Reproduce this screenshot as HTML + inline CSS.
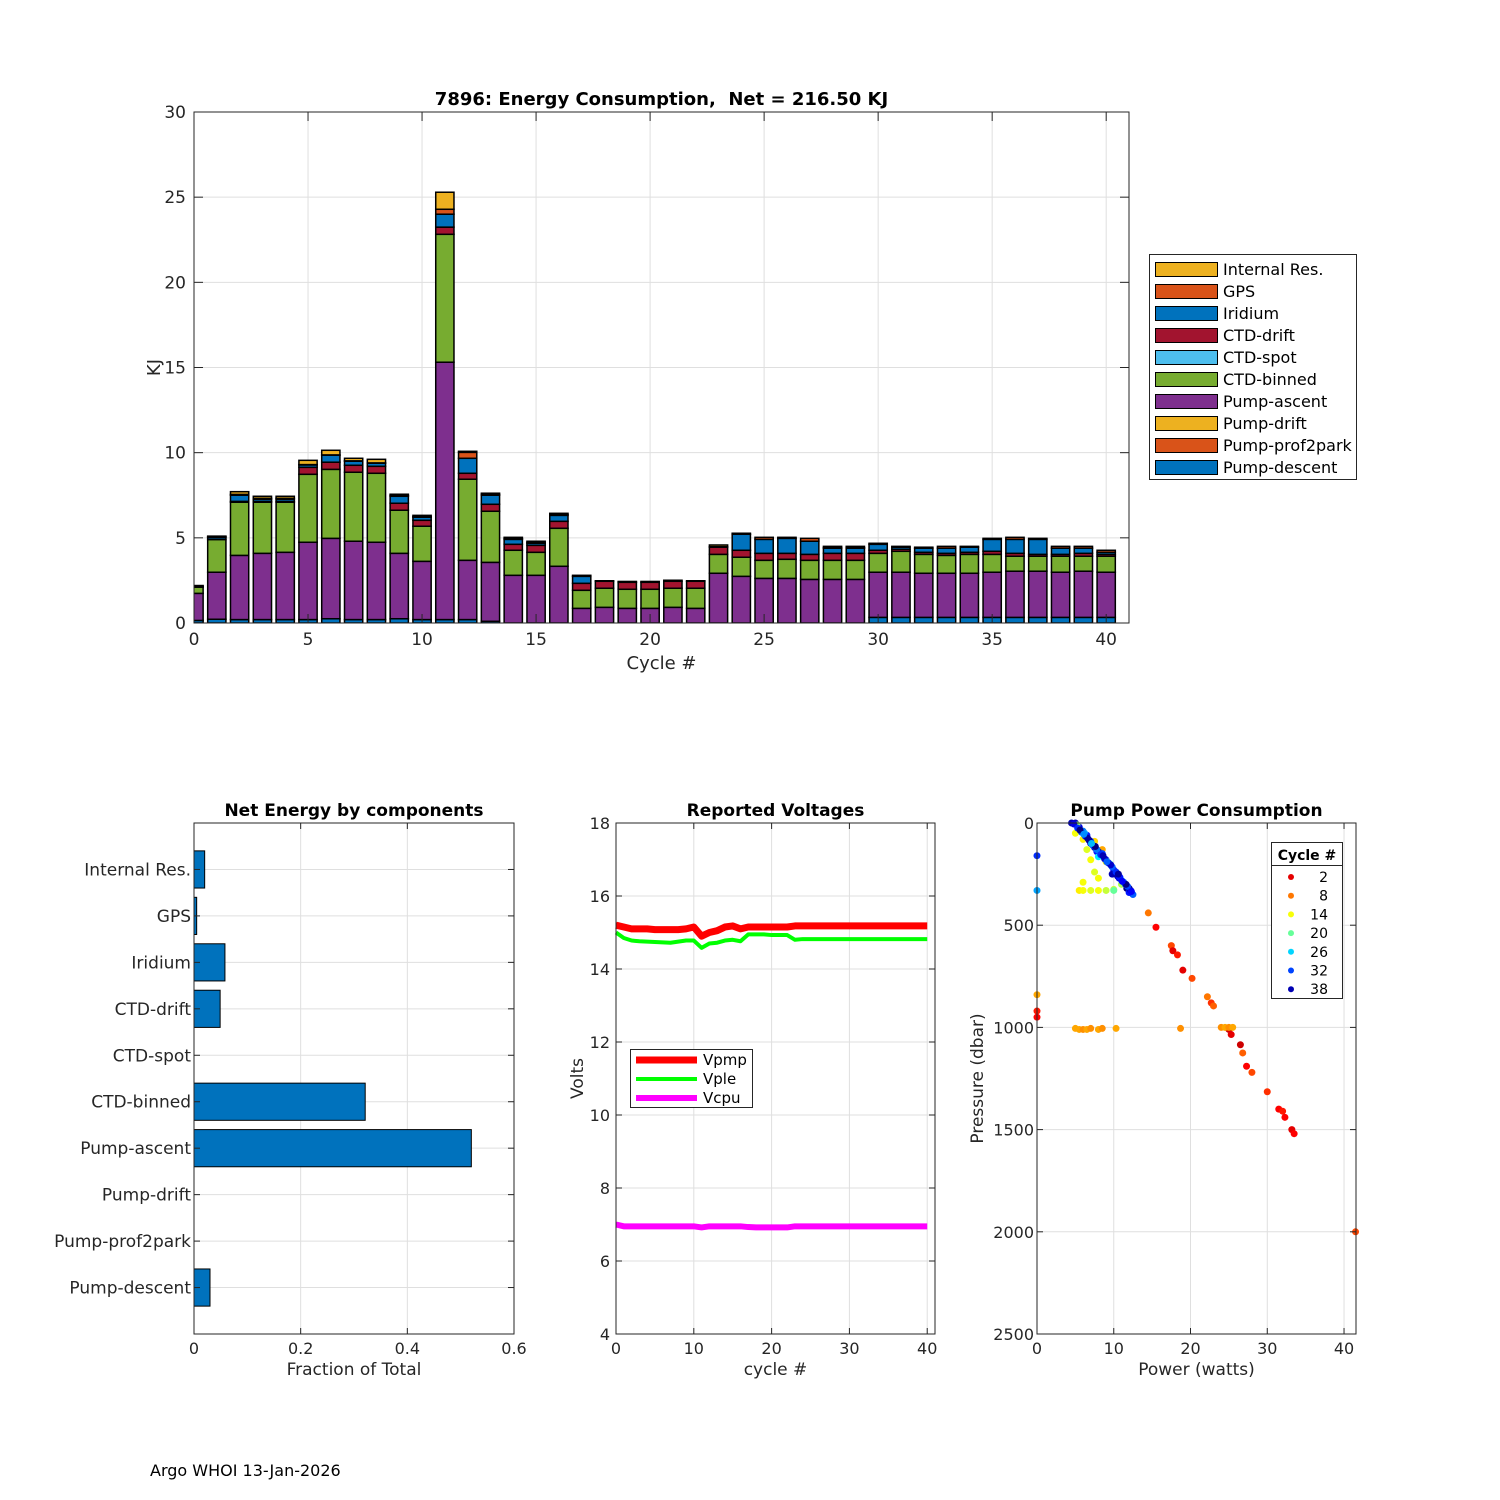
<!DOCTYPE html>
<html><head><meta charset="utf-8">
<style>
html,body{margin:0;padding:0;background:#fff;overflow:hidden;}
svg{display:block;font-family:"DejaVu Sans","Liberation Sans",sans-serif;}
</style></head>
<body>
<svg id="fig" width="1500" height="1500" viewBox="0 0 1500 1500" xmlns="http://www.w3.org/2000/svg">
<rect width="1500" height="1500" fill="#fff"/>
<text x="150" y="1476" font-size="16" fill="#000">Argo WHOI 13-Jan-2026</text>
</svg>
<script>
// ---------- Top chart data ----------
const cycles = [0,1,2,3,4,5,6,7,8,9,10,11,12,13,14,15,16,17,18,19,20,21,22,23,24,25,26,27,28,29,30,31,32,33,34,35,36,37,38,39,40];
const pumpDescent = [.15,.22,.2,.2,.2,.2,.25,.2,.2,.25,.2,.2,.2,.1,0,0,0,0,0,0,0,0,0,0,0,0,0,0,0,0,.33,.33,.33,.33,.33,.33,.33,.33,.33,.33,.33];
const pumpProf2park = [0,0,0,0,0,0,0,0,0,0,0,0,0,0,0,0,0,0,0,0,0,0,0,0,0,0,0,0,0,0,0,0,0,0,0,0,0,0,0,0,0];
const pumpDrift = [0,0,0,0,0,0,0,0,0,0,0,0,0,0,0,0,0,0,0,0,0,0,0,0,0,0,0,0,0,0,0,0,0,0,0,0,0,0,0,0,0];
const pumpAscent = [1.59,2.76,3.77,3.89,3.95,4.54,4.72,4.6,4.54,3.84,3.42,15.11,3.48,3.46,2.8,2.8,3.33,.86,.92,.86,.86,.92,.86,2.92,2.74,2.62,2.62,2.56,2.56,2.56,2.65,2.65,2.59,2.59,2.59,2.65,2.71,2.71,2.65,2.71,2.65];
const ctdBinned = [.36,1.92,3.12,3.0,2.94,3.99,4.05,4.05,4.05,2.53,2.06,7.51,4.76,3.0,1.47,1.35,2.23,1.06,1.12,1.12,1.12,1.12,1.18,1.11,1.12,1.06,1.12,1.12,1.12,1.12,1.11,1.23,1.11,1.05,1.11,1.05,.88,.88,.94,.88,.94];
const ctdSpot = [0,0,0,0,0,0,0,0,0,0,0,0,0,0,0,0,0,0,0,0,0,0,0,0,0,0,0,0,0,0,0,0,0,0,0,0,0,0,0,0,0];
const ctdDrift = [0,0,.05,.05,.05,.41,.42,.41,.41,.41,.35,.42,.35,.41,.35,.41,.41,.41,.41,.41,.41,.41,.41,.42,.41,.41,.35,.35,.41,.41,.18,.12,.12,.12,.12,.18,.17,.11,.11,.17,.11];
const iridium = [0,.12,.36,.13,.13,.14,.41,.24,.18,.41,.18,.76,.88,.53,.29,.12,.35,.41,0,0,0,0,0,0,.94,.82,.88,.77,.3,.3,.35,.12,.24,.3,.3,.7,.82,.88,.36,.3,.12];
const gps = [.05,.05,.05,.05,.05,.02,.02,.02,.02,.05,.03,.29,.35,.05,.05,.05,.05,.06,.03,.05,.05,.06,.03,.03,.06,.12,.06,.17,.03,.03,.06,.05,.06,.11,.05,.06,.12,.06,.11,.11,.12];
const internalRes = [.05,.03,.16,.12,.12,.25,.27,.15,.21,.07,.08,1.0,.06,.07,.07,.07,.07,0,0,0,0,0,0,.1,0,0,0,0,.08,.08,0,0,0,0,0,0,0,0,0,0,0];
const seriesNames = ["Pump-descent","Pump-prof2park","Pump-drift","Pump-ascent","CTD-binned","CTD-spot","CTD-drift","Iridium","GPS","Internal Res."];
const seriesColors = ["#0072bd","#d95319","#edb120","#7e2f8e","#77ac30","#4dbeee","#a2142f","#0072bd","#d95319","#edb120"];
const topYTicks = [0,5,10,15,20,25,30];
const topXTicks = [0,5,10,15,20,25,30,35,40];

// ---------- Bottom-left ----------
const compNames = ["Pump-descent","Pump-prof2park","Pump-drift","Pump-ascent","CTD-binned","CTD-spot","CTD-drift","Iridium","GPS","Internal Res."];
const compFractions = [0.030,0,0,0.520,0.321,0,0.049,0.058,0.005,0.020];
const fracTicks = [0,0.2,0.4,0.6];

// ---------- Voltages ----------
const voltCycles = [0,1,2,3,4,5,6,7,8,9,10,11,12,13,14,15,16,17,18,19,20,21,22,23,24,25,26,27,28,29,30,31,32,33,34,35,36,37,38,39,40];
const vpmp = [15.2,15.15,15.1,15.1,15.1,15.08,15.08,15.08,15.08,15.1,15.15,14.9,15.0,15.05,15.15,15.18,15.1,15.15,15.15,15.15,15.15,15.15,15.15,15.18,15.18,15.18,15.18,15.18,15.18,15.18,15.18,15.18,15.18,15.18,15.18,15.18,15.18,15.18,15.18,15.18,15.18];
const vple = [15.0,14.85,14.78,14.76,14.75,14.74,14.73,14.72,14.75,14.78,14.78,14.58,14.7,14.72,14.78,14.8,14.76,14.95,14.95,14.95,14.93,14.93,14.93,14.8,14.82,14.82,14.82,14.82,14.82,14.82,14.82,14.82,14.82,14.82,14.82,14.82,14.82,14.82,14.82,14.82,14.82];
const vcpu = [7.0,6.95,6.95,6.95,6.95,6.95,6.95,6.95,6.95,6.95,6.95,6.92,6.95,6.95,6.95,6.95,6.95,6.93,6.92,6.92,6.92,6.92,6.92,6.95,6.95,6.95,6.95,6.95,6.95,6.95,6.95,6.95,6.95,6.95,6.95,6.95,6.95,6.95,6.95,6.95,6.95];
const voltYTicks = [4,6,8,10,12,14,16,18];
const voltXTicks = [0,10,20,30,40];

// ---------- Pump power scatter ----------
const pumpPower = [14.5,15.5,17.5,17.7,18.3,19,20.2,22.2,22.7,23,25,25.3,26.5,26.8,27.3,28,30,31.5,32,32.3,33.2,33.5,41.5,
 5,5.5,6,6.5,7,8,8.5,10.3,18.7,24,24.5,25,25.5,
 0,0,0,0,0,
 5,6,6.5,7,7.5,6,5.5,6,7,8,9,10,11,8,9,7.5,8.5,10,
 4.5,5,5.5,6,6.5,7,7.5,8,8.5,9,9.5,10,10.5,11,11.5,12,12.5,7,8.5,9.2,10.7,11.7,6.2,7.8,10.2,12,5.2,8,9.8,12.2,6.8,
 4.8,5.3,5.8,6.3,6.8,7.3,7.8,8.3,8.8,9.3,9.8,10.3,10.8,11.3,11.8,12.3,5.6,6.6,7.6,8.6,9.6,10.6,11.6,6.1,7.1,9.1,11.1];
const pumpPressure = [440,510,600,625,645,720,760,850,880,895,1010,1035,1085,1125,1190,1220,1315,1400,1410,1440,1500,1520,2000,
 1005,1010,1010,1010,1005,1010,1005,1005,1005,1000,1000,1000,1000,
 160,330,840,920,950,
 50,80,130,180,240,290,330,330,330,330,330,325,300,270,190,90,130,330,
 0,0,20,40,60,90,120,140,160,180,200,230,260,280,300,320,350,100,150,190,270,320,50,140,240,340,10,165,250,330,85,
 5,25,45,65,85,110,130,155,175,195,215,240,265,290,310,335,35,75,115,160,205,250,300,55,100,190,285];
const pumpCycle = [8,3,6,2,4,2,6,8,5,7,1,2,1,7,3,6,5,3,4,3,2,3,6,
 10,10,9,10,9,10,9,10,9,9,10,9,10,
 33,28,10,4,3,
 14,13,15,14,15,14,13,14,15,14,16,16,17,14,13,12,10,20,
 38,38,36,30,34,32,37,40,26,33,22,35,38,24,32,39,31,38,32,20,36,40,28,34,30,34,18,25,38,38,40,
 36,33,31,34,39,32,30,33,37,35,31,33,34,30,32,35,40,39,40,38,37,39,40,29,27,31,35];
const legendCycles = [2,8,14,20,26,32,38];
const powXTicks = [0,10,20,30,40];
const presTicks = [0,500,1000,1500,2000,2500];

// ---------- helpers ----------
const NS = "http://www.w3.org/2000/svg";
const svg = document.getElementById('fig');
function mk(tag, attrs, parent){
  const e = document.createElementNS(NS, tag);
  for (const k in attrs) e.setAttribute(k, attrs[k]);
  (parent||svg).appendChild(e);
  return e;
}
function txt(s, x, y, size, anchor, parent, extra){
  const t = mk('text', Object.assign({x:x, y:y, 'font-size':size, 'text-anchor':anchor||'middle', fill:'#262626'}, extra||{}), parent);
  t.textContent = s;
  return t;
}
function jet(c){
  let v = 0.9 - (c-2)/36*0.85;
  v = Math.max(0, Math.min(1, v));
  const r = Math.max(0,Math.min(1,1.5-Math.abs(4*v-3)));
  const g = Math.max(0,Math.min(1,1.5-Math.abs(4*v-2)));
  const b = Math.max(0,Math.min(1,1.5-Math.abs(4*v-1)));
  return `rgb(${Math.round(r*255)},${Math.round(g*255)},${Math.round(b*255)})`;
}
const GRID = '#dfdfdf', AX = '#262626';

// ================= TOP CHART =================
(function(){
  const L=194,R=1129,T=112,B=623, X0=0,X1=41,Y0=0,Y1=30;
  const xs = v => L + (v-X0)/(X1-X0)*(R-L);
  const ys = v => B - (v-Y0)/(Y1-Y0)*(B-T);
  const g = mk('g',{});
  
  
  topXTicks.forEach(v=>{ const l=mk('line',{x1:xs(v),x2:xs(v),y1:T,y2:B,stroke:GRID},g);   });
  topYTicks.forEach(v=>{ const l=mk('line',{x1:L,x2:R,y1:ys(v),y2:ys(v),stroke:GRID},g);   });
  const clip = mk('clipPath',{id:'topclip'},g); mk('rect',{x:L,y:T,width:R-L,height:B-T},clip);
  const bars = mk('g',{'clip-path':'url(#topclip)'},g);
  const series = [pumpDescent,pumpProf2park,pumpDrift,pumpAscent,ctdBinned,ctdSpot,ctdDrift,iridium,gps,internalRes];
  const bw = 0.8;
  cycles.forEach((c,i)=>{
    let base = 0;
    series.forEach((s,k)=>{
      const v = s[i];
      if (v<=0) return;
      const r = mk('rect',{x:xs(c-bw/2),y:ys(base+v),width:xs(c+bw/2)-xs(c-bw/2),height:ys(base)-ys(base+v),fill:seriesColors[k],stroke:'#000','stroke-width':1.5},bars);
      
      
      base += v;
    });
  });
  mk('rect',{x:L,y:T,width:R-L,height:B-T,fill:'none',stroke:AX,'stroke-width':1},g);
  topYTicks.forEach(v=>{
    mk('line',{x1:L,x2:L+9,y1:ys(v),y2:ys(v),stroke:AX},g);
    mk('line',{x1:R,x2:R-9,y1:ys(v),y2:ys(v),stroke:AX},g);
    const t=txt(String(v),L-8,ys(v)+6,17,'end',g);  
  });
  topXTicks.forEach(v=>{
    mk('line',{x1:xs(v),x2:xs(v),y1:B,y2:B-9,stroke:AX},g);
    mk('line',{x1:xs(v),x2:xs(v),y1:T,y2:T+9,stroke:AX},g);
    const t=txt(String(v),xs(v),B+22,17,'middle',g);  
  });
  const tt=txt('7896: Energy Consumption,\u00a0 Net = 216.50 KJ',(L+R)/2,105,18,'middle',g,{'font-weight':'bold',fill:'#000'});
   
  const xl=txt('Cycle #',(L+R)/2,669,18,'middle',g);  
  const yl=txt('KJ',0,0,18,'middle',g,{transform:`translate(160,${(T+B)/2}) rotate(-90)`});  
  const lg = mk('g',{},g);
   
  mk('rect',{x:1149.5,y:254.5,width:207,height:225,fill:'#fff',stroke:AX},lg);
  for (let k=9,j=0;k>=0;k--,j++){
    const y=262+j*22;
    const e=mk('g',{},lg);  
    mk('rect',{x:1155.5,y:y+0.5,width:62,height:14,fill:seriesColors[k],stroke:'#000','stroke-width':1},e);
    txt(seriesNames[k],1223,y+13,16,'start',e,{fill:'#000'});
  }
})();

// ================= BOTTOM LEFT =================
(function(){
  const L=194,R=514,T=823,B=1334, X0=0,X1=0.6,Y0=0,Y1=11;
  const xs = v => L + (v-X0)/(X1-X0)*(R-L);
  const ys = v => B - (v-Y0)/(Y1-Y0)*(B-T);
  const g = mk('g',{});
   
  fracTicks.forEach(v=>mk('line',{x1:xs(v),x2:xs(v),y1:T,y2:B,stroke:GRID},g));
  compNames.forEach((n,i)=>mk('line',{x1:L,x2:R,y1:ys(i+1),y2:ys(i+1),stroke:GRID},g));
  compNames.forEach((n,i)=>{
    const v=compFractions[i];
    if (v>0){
      const r=mk('rect',{x:xs(0),y:ys(i+1.4),width:xs(v)-xs(0),height:ys(i+0.6)-ys(i+1.4),fill:'#0072bd',stroke:'#000','stroke-width':1},g);
      
      
    }
    mk('line',{x1:R,x2:R-6,y1:ys(i+1),y2:ys(i+1),stroke:AX},g);
    mk('line',{x1:L,x2:L+6,y1:ys(i+1),y2:ys(i+1),stroke:AX},g);
    const t=txt(n,L-3,ys(i+1)+6,17,'end',g);  
  });
  mk('rect',{x:L,y:T,width:R-L,height:B-T,fill:'none',stroke:AX},g);
  fracTicks.forEach(v=>{
    mk('line',{x1:xs(v),x2:xs(v),y1:B,y2:B-6,stroke:AX},g);
    mk('line',{x1:xs(v),x2:xs(v),y1:T,y2:T+6,stroke:AX},g);
    const t=txt(String(v),xs(v),B+20,16,'middle',g);  
  });
  const tt=txt('Net Energy by components',(L+R)/2,816,17,'middle',g,{'font-weight':'bold',fill:'#000'});  
  const xl=txt('Fraction of Total',(L+R)/2,1375,17,'middle',g);  
})();

// ================= VOLTAGES =================
(function(){
  const L=616,R=935,T=823,B=1334, X0=0,X1=41,Y0=4,Y1=18;
  const xs = v => L + (v-X0)/(X1-X0)*(R-L);
  const ys = v => B - (v-Y0)/(Y1-Y0)*(B-T);
  const g = mk('g',{});
   
  voltXTicks.forEach(v=>mk('line',{x1:xs(v),x2:xs(v),y1:T,y2:B,stroke:GRID},g));
  voltYTicks.forEach(v=>mk('line',{x1:L,x2:R,y1:ys(v),y2:ys(v),stroke:GRID},g));
  const lines=[[vpmp,'#ff0000',7,'vpmp-line'],[vple,'#00ff00',4,'vple-line'],[vcpu,'#ff00ff',6,'vcpu-line']];
  lines.forEach(([arr,col,w,name])=>{
    const p=mk('polyline',{points:voltCycles.map((c,i)=>xs(c)+','+ys(arr[i])).join(' '),fill:'none',stroke:col,'stroke-width':w,'stroke-linejoin':'round'},g);
     
  });
  mk('rect',{x:L,y:T,width:R-L,height:B-T,fill:'none',stroke:AX},g);
  voltYTicks.forEach(v=>{
    mk('line',{x1:L,x2:L+6,y1:ys(v),y2:ys(v),stroke:AX},g);
    mk('line',{x1:R,x2:R-6,y1:ys(v),y2:ys(v),stroke:AX},g);
    const t=txt(String(v),L-6,ys(v)+6,16,'end',g);  
  });
  voltXTicks.forEach(v=>{
    mk('line',{x1:xs(v),x2:xs(v),y1:B,y2:B-6,stroke:AX},g);
    mk('line',{x1:xs(v),x2:xs(v),y1:T,y2:T+6,stroke:AX},g);
    const t=txt(String(v),xs(v),B+20,16,'middle',g);  
  });
  const tt=txt('Reported Voltages',(L+R)/2,816,17,'middle',g,{'font-weight':'bold',fill:'#000'});  
  const xl=txt('cycle #',(L+R)/2,1375,17,'middle',g);  
  const yl=txt('Volts',0,0,17,'middle',g,{transform:`translate(583,${(T+B)/2}) rotate(-90)`});  
  const lg=mk('g',{},g);  
  mk('rect',{x:630.5,y:1049.5,width:122,height:58,fill:'#fff',stroke:AX},lg);
  [['Vpmp','#ff0000',7],['Vple','#00ff00',4],['Vcpu','#ff00ff',6]].forEach(([n,c,w],j)=>{
    const y=1060+j*19;
    const e=mk('g',{},lg);  
    mk('line',{x1:636,x2:697,y1:y,y2:y,stroke:c,'stroke-width':w},e);
    txt(n,703,y+5,15,'start',e,{fill:'#000'});
  });
})();

// ================= PUMP POWER =================
(function(){
  const L=1037,R=1356,T=823,B=1334, X0=0,X1=41.56,Y0=0,Y1=2500;
  const xs = v => L + (v-X0)/(X1-X0)*(R-L);
  const ys = v => T + (v-Y0)/(Y1-Y0)*(B-T);
  const g = mk('g',{});
   
  powXTicks.forEach(v=>mk('line',{x1:xs(v),x2:xs(v),y1:T,y2:B,stroke:GRID},g));
  presTicks.forEach(v=>mk('line',{x1:L,x2:R,y1:ys(v),y2:ys(v),stroke:GRID},g));
  pumpPower.forEach((p,i)=>{
    const c=mk('circle',{cx:xs(p),cy:ys(pumpPressure[i]),r:3.5,fill:jet(pumpCycle[i])},g);
     
  });
  mk('rect',{x:L,y:T,width:R-L,height:B-T,fill:'none',stroke:AX},g);
  presTicks.forEach(v=>{
    mk('line',{x1:L,x2:L+6,y1:ys(v),y2:ys(v),stroke:AX},g);
    mk('line',{x1:R,x2:R-6,y1:ys(v),y2:ys(v),stroke:AX},g);
    const t=txt(String(v),L-3,ys(v)+6,16,'end',g);  
  });
  powXTicks.forEach(v=>{
    mk('line',{x1:xs(v),x2:xs(v),y1:B,y2:B-6,stroke:AX},g);
    mk('line',{x1:xs(v),x2:xs(v),y1:T,y2:T+6,stroke:AX},g);
    const t=txt(String(v),xs(v),B+20,16,'middle',g);  
  });
  const tt=txt('Pump Power Consumption',(L+R)/2,816,17,'middle',g,{'font-weight':'bold',fill:'#000'});  
  const xl=txt('Power (watts)',(L+R)/2,1375,17,'middle',g);  
  const yl=txt('Pressure (dbar)',0,0,17,'middle',g,{transform:`translate(983,${(T+B)/2}) rotate(-90)`});  
  const lg=mk('g',{},g);  
  mk('rect',{x:1271.5,y:842.5,width:71,height:156,fill:'#fff',stroke:AX},lg);
  mk('line',{x1:1271.5,x2:1342.5,y1:865.5,y2:865.5,stroke:AX},lg);
  txt('Cycle #',1307,860,14,'middle',lg,{'font-weight':'bold',fill:'#000'});
  legendCycles.forEach((c,j)=>{
    const y=877+j*18.7;
    const e=mk('g',{},lg);  
    mk('circle',{cx:1291,cy:y,r:3,fill:jet(c)},e);
    txt(String(c),1328,y+5,14,'end',e,{fill:'#000'});
  });
})();
</script>
</body></html>
